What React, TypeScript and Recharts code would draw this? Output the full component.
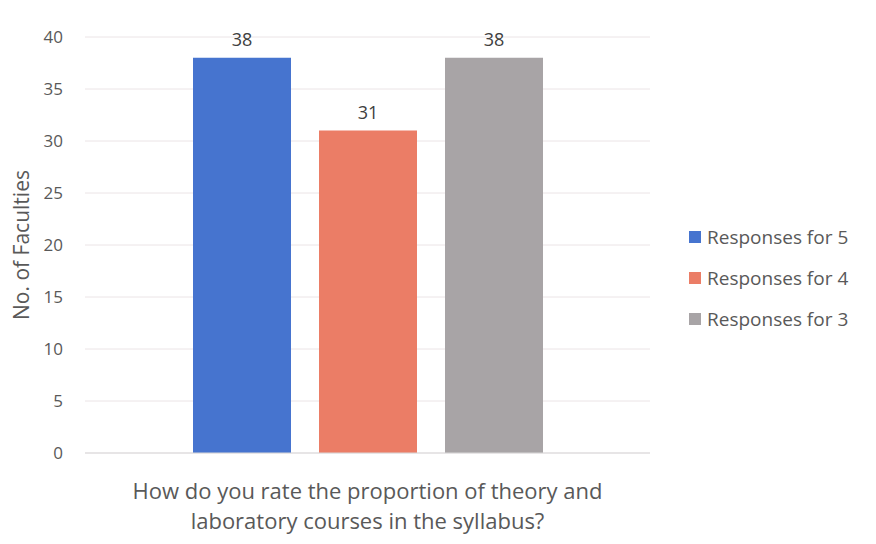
import { BarChart, Bar, XAxis, YAxis, CartesianGrid, LabelList } from 'recharts';

const categories = ['How do you rate the proportion of theory and laboratory courses in the syllabus?'];
const categoryLines = ['How do you rate the proportion of theory and', 'laboratory courses in the syllabus?'];
const seriesNames = ['Responses for 5', 'Responses for 4', 'Responses for 3'];
const responses5 = [38];
const responses4 = [31];
const responses3 = [38];
const yTicks = [0, 5, 10, 15, 20, 25, 30, 35, 40];
const colors = ['#4674cf', '#eb7d66', '#a8a4a6'];

const data = categories.map((name, i) => ({
  name,
  r5: responses5[i],
  r4: responses4[i],
  r3: responses3[i],
}));
const keys = ['r5', 'r4', 'r3'];

const font = '"Open Sans", sans-serif';

const CategoryTick = ({ x, y }: any) => (
  <g transform={`translate(${x},${y})`}>
    {categoryLines.map((line, i) => (
      <text key={i} x={0} y={38 + i * 30} textAnchor="middle" fill="#595959" fontSize={22} fontFamily={font}>
        {line}
      </text>
    ))}
  </g>
);

export default function App() {
  return (
    <div style={{ position: 'absolute', left: 0, top: 0, width: 876, height: 544, background: '#fff' }}>
      <BarChart
        width={876}
        height={544}
        data={data}
        margin={{ top: 37, right: 226, bottom: 11, left: 0 }}
        barSize={98}
        barGap={28}
      >
        <CartesianGrid vertical={false} stroke="#ebe4e6" />
        <XAxis dataKey="name" axisLine={{ stroke: '#d9d9d9' }} tickLine={false} height={80} tick={<CategoryTick />} interval={0} />
        <YAxis
          domain={[0, 40]}
          ticks={yTicks}
          width={85}
          axisLine={false}
          tickLine={false}
          tickSize={0}
          tickMargin={22}
          tick={{ fill: '#595959', fontSize: 17, fontFamily: font }}
          label={{ value: 'No. of Faculties', angle: -90, position: 'insideLeft', offset: 22, style: { textAnchor: 'middle', fill: '#595959', fontSize: 21, fontFamily: font } }}
        />
        {keys.map((k, i) => (
          <Bar key={k} dataKey={k} name={seriesNames[i]} fill={colors[i]} isAnimationActive={false}>
            <LabelList dataKey={k} position="top" offset={12} fill="#404040" fontSize={18} fontFamily={font} />
          </Bar>
        ))}
      </BarChart>
      <div style={{ position: 'absolute', left: 689, top: 216, fontFamily: font, fontSize: 19, color: '#595959' }}>
        {seriesNames.map((n, i) => (
          <div key={n} style={{ display: 'flex', alignItems: 'center', height: 41 }}>
            <span style={{ width: 12, height: 12, background: colors[i], marginRight: 6, display: 'inline-block' }} />
            {n}
          </div>
        ))}
      </div>
    </div>
  );
}
